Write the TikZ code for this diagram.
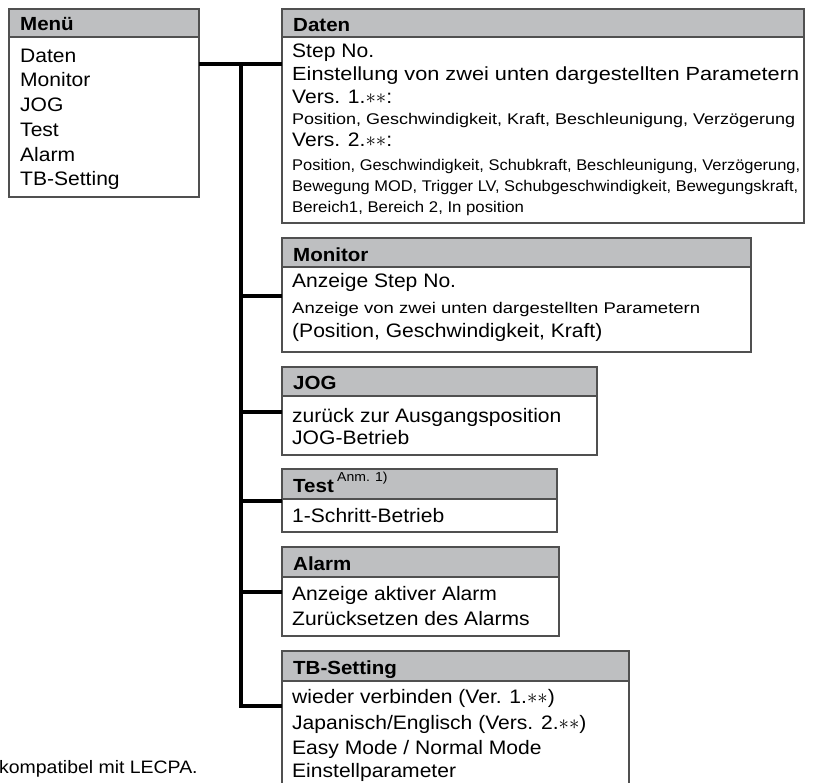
\documentclass[tikz,border=0pt]{standalone}
\usepackage{fontspec}
\setmainfont{Liberation Sans}[FakeStretch=1.08]
\usepackage{graphicx}
\definecolor{hdrgray}{RGB}{190,191,193}
\definecolor{edgegray}{RGB}{80,80,80}
\newlength\dgfitlen
\newcommand\dgfit[2]{\settowidth{\dgfitlen}{#2}\pgfmathsetmacro{\dgfitr}{#1/\the\dgfitlen}\scalebox{\dgfitr}[1]{#2}}
\newcommand\dgmain{\fontsize{19.5}{23}\selectfont}
\newcommand\dgsmall{\fontsize{15.5}{18}\selectfont}
\newcommand\dghdr{\fontsize{19}{22}\selectfont\bfseries}
\newcommand\dgast{$\ast\ast$}
\begin{document}
\begin{tikzpicture}[x=1pt,y=-1pt,
  box/.style={draw=edgegray,line width=1.2pt,fill=white,inner sep=0pt,outer sep=0pt,anchor=north west},
  hdr/.style={box,fill=hdrgray},
  txt/.style={anchor=base west,inner sep=0pt,font=\dgmain},
  sml/.style={anchor=base west,inner sep=0pt,font=\dgsmall},
  htxt/.style={anchor=base west,inner sep=0pt,font=\dghdr},
  conn/.style={line width=3.6pt,black,line join=miter}]
\useasboundingbox (0,0) rectangle (815,783);

% Menue
\node[box,minimum width=190pt,minimum height=160pt] (menu) at (9,37) {};
\node[hdr,minimum width=190pt,minimum height=28pt] (menuh) at (9,9) {};
\node[htxt] (menuht) at (20,31) {Menü};
\node[txt] (m1) at (20,63) {Daten};
\node[txt] (m2) at (20,87) {Monitor};
\node[txt] (m3) at (20,112) {JOG};
\node[txt] (m4) at (20,137) {Test};
\node[txt] (m5) at (20,162) {Alarm};
\node[txt] (m6) at (20,186) {TB-Setting};

% Daten
\node[box,minimum width=522pt,minimum height=186pt] (dat) at (282,37) {};
\node[hdr,minimum width=522pt,minimum height=28pt] (dath) at (282,9) {};
\node[htxt] (datht) at (293,32) {Daten};
\node[txt] (d1) at (292,58) {Step No.};
\node[txt,font=\fontsize{19}{22}\selectfont] (d2) at (292,80.5) {\dgfit{507pt}{Einstellung von zwei unten dargestellten Parametern}};
\node[txt] (d3) at (292,104) {Vers. 1.\dgast:};
\node[sml] (d4) at (292,125) {\dgfit{503pt}{Position, Geschwindigkeit, Kraft, Beschleunigung, Verzögerung}};
\node[txt] (d5) at (292,147) {Vers. 2.\dgast:};
\node[sml] (d6) at (292,171) {\dgfit{508pt}{Position, Geschwindigkeit, Schubkraft, Beschleunigung, Verzögerung,}};
\node[sml] (d7) at (292,192) {\dgfit{506pt}{Bewegung MOD, Trigger LV, Schubgeschwindigkeit, Bewegungskraft,}};
\node[sml] (d8) at (292,213) {Bereich1, Bereich 2, In position};

% Monitor
\node[box,minimum width=469pt,minimum height=85pt] (mon) at (282,267) {};
\node[hdr,minimum width=469pt,minimum height=29pt] (monh) at (282,238) {};
\node[htxt] (monht) at (293,262) {Monitor};
\node[txt] (o1) at (292,288) {Anzeige Step No.};
\node[sml] (o2) at (292,314) {\dgfit{408pt}{Anzeige von zwei unten dargestellten Parametern}};
\node[txt] (o3) at (292,338) {(Position, Geschwindigkeit, Kraft)};

% JOG
\node[box,minimum width=315pt,minimum height=59pt] (jog) at (282,396) {};
\node[hdr,minimum width=315pt,minimum height=29pt] (jogh) at (282,367) {};
\node[htxt] (joght) at (293,390) {JOG};
\node[txt] (g1) at (292,423) {zurück zur Ausgangsposition};
\node[txt] (g2) at (292,445) {JOG-Betrieb};

% Test
\node[box,minimum width=275pt,minimum height=33pt] (tst) at (282,499) {};
\node[hdr,minimum width=275pt,minimum height=30pt] (tsth) at (282,469) {};
\node[htxt] (tstht) at (293,493) {Test};
\node[anchor=base west,inner sep=0pt,font=\fontsize{13}{15}\selectfont] (anm) at (337,482) {Anm. 1)};
\node[txt] (t1) at (292,523) {1-Schritt-Betrieb};

% Alarm
\node[box,minimum width=277pt,minimum height=59pt] (alm) at (282,577) {};
\node[hdr,minimum width=277pt,minimum height=30pt] (almh) at (282,547) {};
\node[htxt] (almht) at (293,571) {Alarm};
\node[txt] (a1) at (292,601) {Anzeige aktiver Alarm};
\node[txt] (a2) at (292,626) {Zurücksetzen des Alarms};

% TB-Setting
\node[box,minimum width=347pt,minimum height=130pt] (tb) at (282,681) {};
\node[hdr,minimum width=347pt,minimum height=30pt] (tbh) at (282,651) {};
\node[htxt] (tbht) at (293,675) {TB-Setting};
\node[txt] (b1) at (292,704) {wieder verbinden (Ver. 1.\dgast)};
\node[txt] (b2) at (292,729) {Japanisch/Englisch (Vers. 2.\dgast)};
\node[txt] (b3) at (292,754) {Easy Mode / Normal Mode};
\node[txt] (b4) at (292,778) {Einstellparameter};

% footnote
\node[anchor=base west,inner sep=0pt,font=\fontsize{18}{21}\selectfont] (note) at (-1,773) {kompatibel mit LECPA.};

% connectors
\coordinate (j0) at (241,64);
\coordinate (j1) at (241,296);
\coordinate (j2) at (241,412);
\coordinate (j3) at (241,501);
\coordinate (j4) at (241,592);
\coordinate (j5) at (241,706);
\draw[conn] (menu.east |- j0) -- (dat.west |- j0);
\draw[conn] (j0) -- (j5) -- (tb.west |- j5);
\draw[conn] (j1) -- (mon.west |- j1);
\draw[conn] (j2) -- (jog.west |- j2);
\draw[conn] (j3) -- (tst.west |- j3);
\draw[conn] (j4) -- (alm.west |- j4);
\end{tikzpicture}
\end{document}
